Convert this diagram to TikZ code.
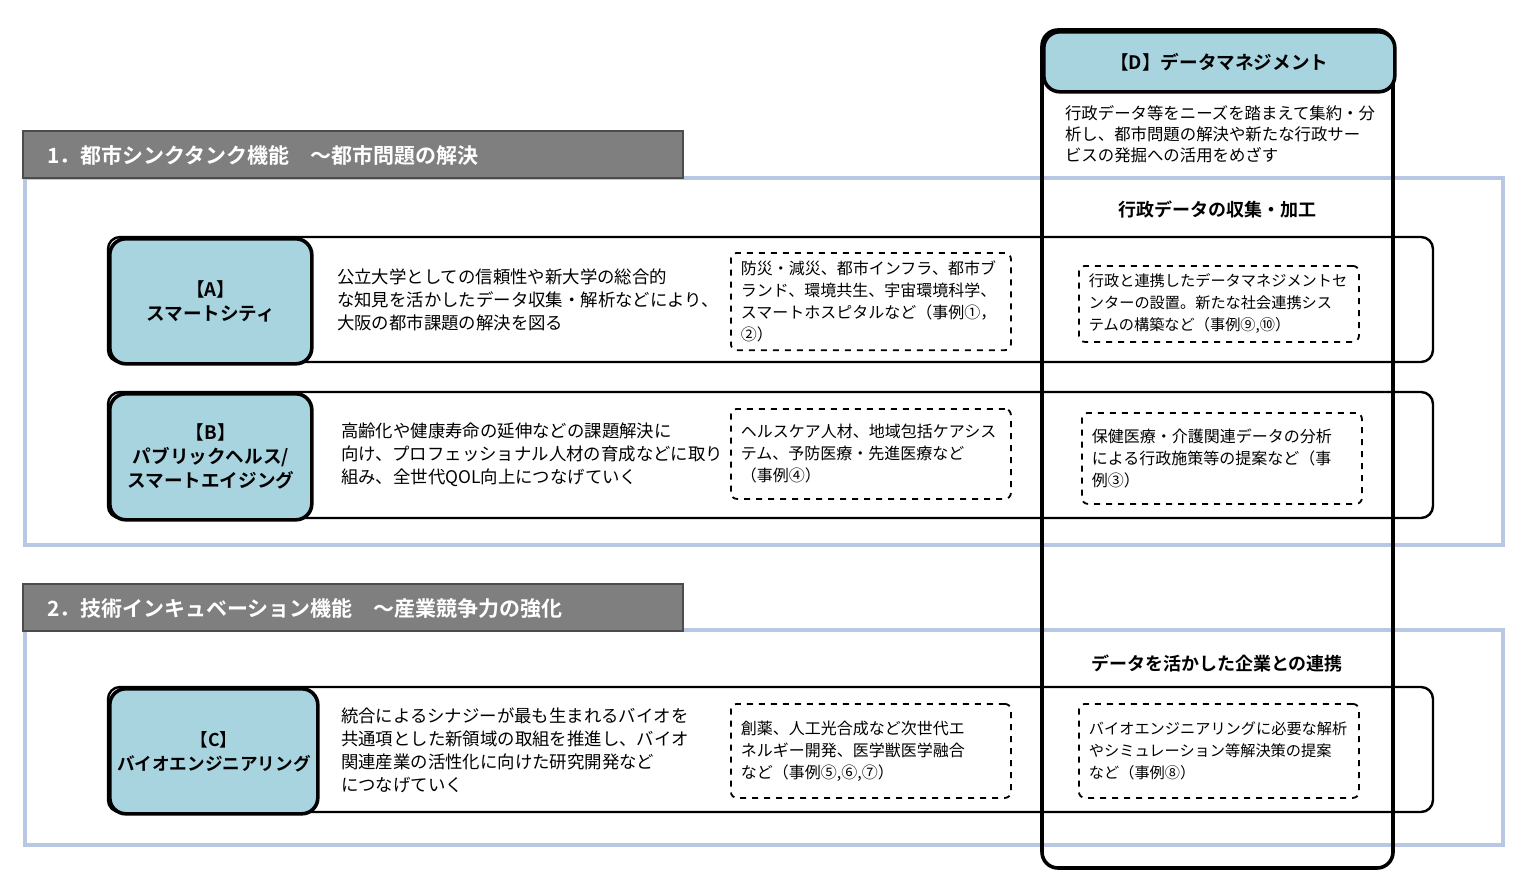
\documentclass[tikz,border=0pt]{standalone}
\usepackage{fontspec}
\setmainfont{Noto Sans CJK JP}
\newfontfamily\jpbold{Noto Sans CJK JP Bold}
\usetikzlibrary{positioning}
\definecolor{boxblue}{HTML}{A8D4E0}
\definecolor{panelblue}{HTML}{B8C8E4}
\definecolor{bargray}{HTML}{7F7F7F}
\begin{document}
\begin{tikzpicture}[x=0.5pt,y=-0.5pt,
  headbar/.style={draw=black!70, fill=bargray, line width=1pt, anchor=north west, text width=306pt, minimum height=23.5pt, text=white, font=\jpbold\fontsize{10.5}{12}\selectfont, text depth=0pt, inner xsep=12pt, align=left},
  panel/.style={draw=panelblue, line width=2pt},
  rowbox/.style={draw=black, line width=1.2pt, rounded corners=6pt},
  keybox/.style={draw=black, fill=boxblue, line width=1.8pt, rounded corners=8pt, align=center, inner xsep=1pt, font=\jpbold\fontsize{9.3}{12}\selectfont},
  desc/.style={anchor=west, align=left, font=\fontsize{8.7}{11.5}\selectfont},
  casebox/.style={draw=black, dashed, line width=0.9pt, rounded corners=3pt, anchor=north west, align=left, inner xsep=5pt, inner ysep=4pt, text width=130pt, font=\fontsize{8}{11}\selectfont},
  ]
\useasboundingbox (0,0) rectangle (1520,878);
%Panels
\draw[panel] (25,178) rectangle (1503,545);
\draw[panel] (25,630) rectangle (1503,845);
\node[headbar] (sec1) at (22,130) {1．都市シンクタンク機能　～都市問題の解決};
\node[headbar] (sec2) at (22,583) {2．技術インキュベーション機能　～産業競争力の強化};
%Rows
\draw[rowbox] (108,237) rectangle (1433,362);
\draw[rowbox] (108,392) rectangle (1433,518);
\draw[rowbox] (108,687) rectangle (1433,812);
\node[keybox, minimum width=101pt, minimum height=62.5pt, anchor=north west] (keyA) at (108,237) {【A】\\スマートシティ};
\node[keybox, minimum width=101pt, minimum height=63pt, anchor=north west] (keyB) at (108,392) {【B】\\パブリックヘルス/\\スマートエイジング};
\node[keybox, minimum width=104pt, minimum height=62.5pt, anchor=north west, font=\jpbold\fontsize{8.8}{12}\selectfont] (keyC) at (108,687) {【C】\\バイオエンジニアリング};
%Descriptions
\node[desc] (descA) at (330,300) {公立大学としての信頼性や新大学の総合的\\な知見を活かしたデータ収集・解析などにより、\\大阪の都市課題の解決を図る};
\node[desc] (descB) at (334,455) {高齢化や健康寿命の延伸などの課題解決に\\向け、プロフェッショナル人材の育成などに取り\\組み、全世代QOL向上につなげていく};
\node[desc] (descC) at (334,750) {統合によるシナジーが最も生まれるバイオを\\共通項とした新領域の取組を推進し、バイオ\\関連産業の活性化に向けた研究開発など\\につなげていく};
%Cases
\node[casebox, minimum height=47pt] (caseA) at (730,252) {防災・減災、都市インフラ、都市ブ\\ランド、環境共生、宇宙環境科学、\\スマートホスピタルなど（事例①，\\②）};
\node[casebox, minimum height=45pt] (caseB) at (730,408) {ヘルスケア人材、地域包括ケアシス\\テム、予防医療・先進医療など\\（事例④）};
\node[casebox, minimum height=47pt] (caseC) at (730,703) {創薬、人工光合成など次世代エ\\ネルギー開発、医学獣医学融合\\など（事例⑤,⑥,⑦）};
%D column
\draw[line width=1.8pt, rounded corners=8pt] (1042,30) rectangle (1393,868);
\node[keybox, anchor=north west, minimum width=175.5pt, minimum height=30pt] (keyD) at (1042,30) {【D】データマネジメント};
\node[desc, anchor=north west, font=\fontsize{8.2}{10.5}\selectfont] (descD) at (1058,98) {行政データ等をニーズを踏まえて集約・分\\析し、都市問題の解決や新たな行政サー\\ビスの発掘への活用をめざす};
\node[font=\jpbold\fontsize{9}{11}\selectfont] (colD1) at (1217,210) {行政データの収集・加工};
\node[font=\jpbold\fontsize{9}{11}\selectfont] (colD2) at (1217,664) {データを活かした企業との連携};
\node[casebox, minimum height=38pt, font=\fontsize{7.6}{11}\selectfont] (caseDA) at (1078,265) {行政と連携したデータマネジメントセ\\ンターの設置。新たな社会連携シス\\テムの構築など（事例⑨,⑩）};
\node[casebox, minimum height=45.5pt] (caseDB) at (1081,412) {保健医療・介護関連データの分析\\による行政施策等の提案など（事\\例③）};
\node[casebox, minimum height=47pt, font=\fontsize{7.6}{11}\selectfont] (caseDC) at (1078,703) {バイオエンジニアリングに必要な解析\\やシミュレーション等解決策の提案\\など（事例⑧）};
\end{tikzpicture}
\end{document}
